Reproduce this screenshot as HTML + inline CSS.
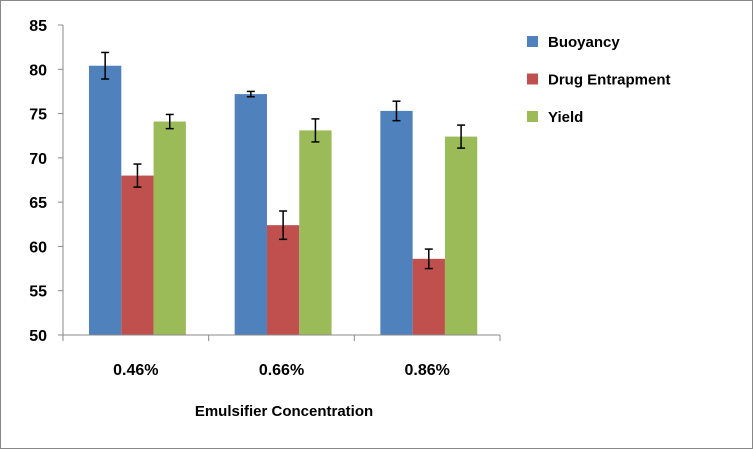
<!DOCTYPE html>
<html><head><meta charset="utf-8"><style>
html,body{margin:0;padding:0;background:#fff}
svg{display:block;font-family:"Liberation Sans",sans-serif}
</style></head><body>
<svg id="chart" width="753" height="449"></svg>
<script>
const categories=["0.46%","0.66%","0.86%"];
const seriesNames=["Buoyancy","Drug Entrapment","Yield"];
const buoyancy=[80.4,77.2,75.3];
const drugEntrapment=[68.0,62.4,58.6];
const yieldVals=[74.1,73.1,72.4];
const buoyancyErr=[1.5,0.3,1.1];
const drugErr=[1.3,1.6,1.1];
const yieldErr=[0.8,1.3,1.3];
const yTicks=[50,55,60,65,70,75,80,85];
const colors=["#4F81BD","#C0504D","#9BBB59"];
const series=[buoyancy,drugEntrapment,yieldVals];
const errs=[buoyancyErr,drugErr,yieldErr];

const NS="http://www.w3.org/2000/svg";
const svg=document.getElementById('chart');
function mk(t,a,p){const e=document.createElementNS(NS,t);for(const k in a)e.setAttribute(k,a[k]);(p||svg).appendChild(e);return e;}
const x0=63,x1=500,yTop=25,yBot=335,yMin=50,yMax=85;
const y=v=>yBot-(v-yMin)/(yMax-yMin)*(yBot-yTop);
const gw=(x1-x0)/categories.length,bw=32.3,off=26;

let e=mk('rect',{x:0.5,y:0.5,width:752,height:448,fill:'#fff',stroke:'#888'});



yTicks.forEach(t=>{
  let tk=mk('line',{x1:x0-5,x2:x0,y1:y(t),y2:y(t),stroke:'#888'});
  
  
  let l=mk('text',{x:x0-16,y:y(t)+6,'text-anchor':'end','font-size':16,'font-weight':'bold',fill:'#000'});
  l.textContent=t;
  
  
});

categories.forEach((c,i)=>{
  const gx=x0+i*gw;
  series.forEach((s,j)=>{
    const bx=gx+off+j*bw;
    let r=mk('rect',{x:bx,y:y(s[i]),width:bw,height:yBot-y(s[i]),fill:colors[j]});
    
    
    const cx=bx+bw/2,hi=y(s[i]+errs[j][i]),lo=y(s[i]-errs[j][i]);
    let g=mk('g',{stroke:'#000','stroke-width':1.5});
    
    
    mk('line',{x1:cx,x2:cx,y1:hi,y2:lo},g);
    mk('line',{x1:cx-4,x2:cx+4,y1:hi,y2:hi},g);
    mk('line',{x1:cx-4,x2:cx+4,y1:lo,y2:lo},g);
  });
  let l=mk('text',{x:gx+gw/2,y:375,'text-anchor':'middle','font-size':16,'font-weight':'bold'});
  l.textContent=c;
  
  
  let tk=mk('line',{x1:gx+gw,x2:gx+gw,y1:yBot,y2:yBot+6,stroke:'#888'});
  
  
});
let tk0=mk('line',{x1:x0,x2:x0,y1:yBot,y2:yBot+6,stroke:'#888'});



let ya=mk('line',{x1:x0,x2:x0,y1:yTop,y2:yBot,stroke:'#888'});


let xa=mk('line',{x1:x0,x2:x1,y1:yBot,y2:yBot,stroke:'#888'});



let xt=mk('text',{x:284,y:416,'text-anchor':'middle','font-size':15,'font-weight':'bold'});
xt.textContent='Emulsifier Concentration';



seriesNames.forEach((n,j)=>{
  const ly=41+j*37.5;
  let g=mk('g',{});
  
  
  mk('rect',{x:527,y:ly-5,width:11,height:11,fill:colors[j]},g);
  let t=mk('text',{x:548,y:ly+6,'font-size':15,'font-weight':'bold'},g);
  t.textContent=n;
});
</script>
</body></html>
